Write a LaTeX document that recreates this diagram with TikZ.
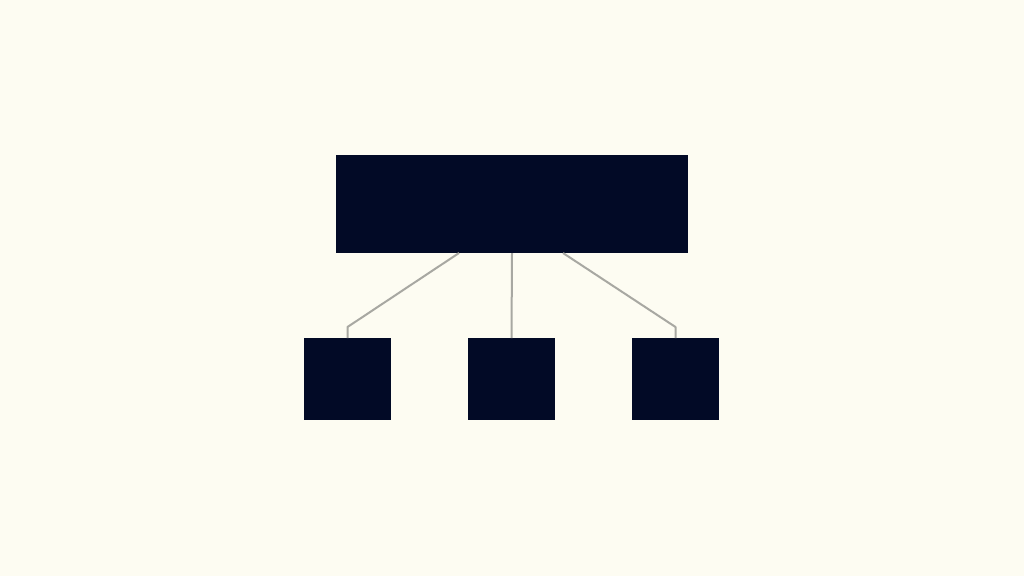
\documentclass[tikz,border=0pt]{standalone}
\definecolor{bg}{HTML}{FDFCF2}
\definecolor{boxc}{HTML}{020A26}
\definecolor{linec}{HTML}{A8A8A2}
\begin{document}
\begin{tikzpicture}[x=1pt,y=-1pt,
  blk/.style={fill=boxc,draw=none,inner sep=0pt,outer sep=0pt},
  conn/.style={draw=linec,line width=2pt,line join=round}]
\fill[bg] (0,0) rectangle (1024,576);
\useasboundingbox (0,0) rectangle (1024,576);
\node[blk,minimum width=352pt,minimum height=98pt] (top) at (512,204) {};
\node[blk,minimum width=87pt,minimum height=82pt] (b1) at (347.5,379) {};
\node[blk,minimum width=87pt,minimum height=82pt] (b2) at (511.5,379) {};
\node[blk,minimum width=87pt,minimum height=82pt] (b3) at (675.5,379) {};
\coordinate (s1) at ([xshift=-53pt]top.south);
\coordinate (s3) at ([xshift=51pt]top.south);
\coordinate (k1) at ([yshift=11pt]b1.north);
\coordinate (k3) at ([yshift=11pt]b3.north);
\draw[conn] (s1) -- (k1) -- (b1.north);
\draw[conn] (top.south) -- (b2.north);
\draw[conn] (s3) -- (k3) -- (b3.north);
\end{tikzpicture}
\end{document}
